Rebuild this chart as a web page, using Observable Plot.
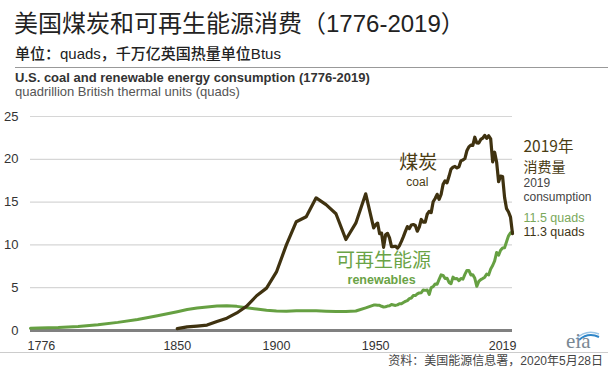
<!DOCTYPE html>
<html><head><meta charset="utf-8">
<script src="https://cdn.jsdelivr.net/npm/d3@7"></script>
<script src="https://cdn.jsdelivr.net/npm/@observablehq/plot@0.6"></script>
<style>
body{margin:0;background:#fff;font-family:"Liberation Sans",Arial,"Noto Sans CJK SC",sans-serif;}
#wrap{position:relative;width:608px;height:377px;overflow:hidden;background:#fff;}
.t{position:absolute;white-space:nowrap;}
</style></head><body>
<div id="wrap">
<div class="t" style="left:14px;top:10px;font-size:24px;line-height:28px;color:#222;">美国煤炭和可再生能源消费（1776-2019）</div>
<div class="t" style="left:15px;top:45px;font-size:15px;line-height:18px;font-weight:500;color:#222;">单位：quads，千万亿英国热量单位Btus</div>
<div style="position:absolute;left:15px;right:0;top:67px;border-top:1px solid #999;"></div>
<div class="t" style="left:15px;top:70px;font-size:13px;line-height:16px;font-weight:bold;color:#333;">U.S. coal and renewable energy consumption (1776-2019)</div>
<div class="t" style="left:15px;top:84px;font-size:13px;line-height:15px;color:#555;">quadrillion British thermal units (quads)</div>
<div id="chart" style="position:absolute;left:0;top:100px;"></div>
<div style="position:absolute;left:0;right:0;top:352px;border-top:1px solid #ccc;"></div>
<div class="t" style="right:5px;top:354px;font-size:12px;line-height:14px;color:#444;">资料：美国能源信息署，2020年5月28日</div>
<svg style="position:absolute;left:562px;top:327px;" width="42" height="26">
  <path d="M14 12 Q24 2 37 7" stroke="#9cc6e6" stroke-width="1.5" fill="none"/>
  <path d="M17 13 Q26 5 37 10" stroke="#2f86c8" stroke-width="2" fill="none"/>
  <text x="4" y="21" font-family="Liberation Serif, DejaVu Serif, serif" font-size="21" fill="#7a8893">eia</text>
</svg>
</div>
<script>
// ---- data (quads) ----
const coalYears = [1850,1855,1860,1865,1870,1875,1880,1885,1890,1895,1900,1905,1910,1915,1920,1925,1930,1935,1940,1945,
 1949,1950,1951,1952,1953,1954,1955,1956,1957,1958,1959,1960,1961,1962,1963,1964,1965,1966,1967,1968,1969,
 1970,1971,1972,1973,1974,1975,1976,1977,1978,1979,1980,1981,1982,1983,1984,1985,1986,1987,1988,1989,
 1990,1991,1992,1993,1994,1995,1996,1997,1998,1999,2000,2001,2002,2003,2004,2005,2006,2007,2008,2009,
 2010,2011,2012,2013,2014,2015,2016,2017,2018,2019];
const coalValues = [0.22,0.42,0.52,0.63,1.05,1.44,2.05,2.84,4.06,4.95,6.84,10.0,12.71,13.29,15.5,14.71,13.64,10.63,12.54,15.97,
 11.98,12.35,12.55,11.31,11.37,9.72,11.17,11.35,10.82,9.81,9.81,9.84,9.62,9.91,10.41,10.96,11.58,12.14,11.91,12.33,12.38,
 12.27,11.6,12.08,12.97,12.66,12.66,13.58,13.92,13.77,15.04,15.42,15.91,15.32,15.89,17.07,17.48,17.26,18.01,18.85,19.07,
 19.17,18.99,19.12,19.84,19.91,20.09,21.0,21.45,21.66,21.62,22.58,21.91,21.9,22.32,22.47,22.8,22.45,22.75,22.39,19.69,
 20.83,19.66,17.38,18.04,17.99,15.55,14.23,13.84,13.24,11.31];

const renewYears = [1776,1780,1790,1800,1810,1820,1830,1840,1850,1855,1860,1865,1870,1875,1880,1885,1890,1895,1900,1905,1910,1915,1920,1925,1930,1935,1940,1945,
 1949,1950,1951,1952,1953,1954,1955,1956,1957,1958,1959,1960,1961,1962,1963,1964,1965,1966,1967,1968,1969,
 1970,1971,1972,1973,1974,1975,1976,1977,1978,1979,1980,1981,1982,1983,1984,1985,1986,1987,1988,1989,
 1990,1991,1992,1993,1994,1995,1996,1997,1998,1999,2000,2001,2002,2003,2004,2005,2006,2007,2008,2009,
 2010,2011,2012,2013,2014,2015,2016,2017,2018,2019];
const renewValues = [0.25,0.28,0.35,0.48,0.68,0.95,1.28,1.72,2.2,2.45,2.62,2.75,2.85,2.88,2.82,2.65,2.5,2.37,2.28,2.25,2.32,2.32,2.3,2.25,2.22,2.22,2.28,2.65,
 2.97,2.98,2.96,2.94,2.83,2.75,2.78,2.85,2.88,3.03,2.98,2.93,2.99,3.13,3.12,3.27,3.4,3.5,3.72,3.8,4.08,
 4.08,4.27,4.39,4.41,4.74,4.69,4.73,4.21,5.01,5.12,5.43,5.41,5.98,6.5,6.44,6.08,6.11,5.62,5.46,6.24,
 6.04,6.07,5.82,6.08,5.99,6.56,7.01,7.02,6.49,6.52,6.1,5.16,5.73,5.94,6.07,6.23,6.6,6.5,7.18,7.59,
 8.13,9.12,8.8,9.37,9.64,9.67,10.37,11.06,11.4,11.5];

const yTicks = [0,5,10,15,20,25];
const xTicks = [1776,1850,1900,1950,2019];

const coal = coalYears.map((year,i)=>({year, value: coalValues[i]}));
const renew = renewYears.map((year,i)=>({year, value: renewValues[i]}));

const FONT = '"Liberation Sans", Arial, "Noto Sans CJK SC", sans-serif';
const CJK = '"Noto Sans CJK SC", sans-serif';
const BROWN = "#3f3210";
const GREEN = "#66a042";

const chart = Plot.plot({
  width: 608, height: 252,
  marginTop: 16, marginBottom: 22, marginLeft: 30, marginRight: 96,
  x: {domain: [1776, 2019], axis: null},
  y: {domain: [0, 25], axis: null},
  style: {fontFamily: FONT, background: "transparent", overflow: "visible"},
  marks: [
    Plot.ruleY(yTicks.filter(d => d > 0), {stroke: "#d6d6d6", strokeWidth: 1.2}),
    Plot.ruleY([0], {stroke: "#808080", strokeWidth: 3}),
    Plot.line(renew, {x: "year", y: "value", stroke: GREEN, strokeWidth: 3}),
    Plot.line(coal, {x: "year", y: "value", stroke: BROWN, strokeWidth: 3.2}),
    // y tick labels
    Plot.text(yTicks, {x: 1776, y: d => d, text: d => String(d), textAnchor: "end", dx: -12, fontSize: 13, fill: "#333"}),
    // x tick labels
    Plot.text(xTicks.slice(0,1), {x: d => d, y: 0, text: d => String(d), textAnchor: "start", dx: -3, dy: 15, fontSize: 12.5, fill: "#333"}),
    Plot.text(xTicks.slice(1,4), {x: d => d, y: 0, text: d => String(d), dy: 15, fontSize: 12.5, fill: "#333"}),
    Plot.text(xTicks.slice(4), {x: d => d, y: 0, text: d => String(d), textAnchor: "end", dx: 4, dy: 15, fontSize: 12.5, fill: "#333"}),
    // series labels
    Plot.text(["煤炭"], {x: 1971.5, y: 19.6, text: d => d, fontSize: 19, fill: "#4a3c14", fontFamily: CJK}),
    Plot.text(["coal"], {x: 1971, y: 17.3, text: d => d, fontSize: 12, fill: "#4a3c14"}),
    Plot.text(["可再生能源"], {x: 1954, y: 8.15, text: d => d, fontSize: 19, fill: "#6aa346", fontFamily: CJK}),
    Plot.text(["renewables"], {x: 1953, y: 5.85, text: d => d, fontSize: 12.5, fontWeight: "bold", fill: "#6aa346"}),
    // 2019 annotation
    Plot.text(["2019年"], {x: 2019, y: 21.45, text: d => d, textAnchor: "start", dx: 11, fontSize: 15.5, fill: "#4a3c14", fontFamily: CJK}),
    Plot.text(["消费量"], {x: 2019, y: 19.05, text: d => d, textAnchor: "start", dx: 11, fontSize: 14, fill: "#4a3c14", fontFamily: CJK}),
    Plot.text(["2019"], {x: 2019, y: 17.25, text: d => d, textAnchor: "start", dx: 11, fontSize: 12, fill: "#444"}),
    Plot.text(["consumption"], {x: 2019, y: 15.55, text: d => d, textAnchor: "start", dx: 11, fontSize: 12, fill: "#444"}),
    Plot.text(["11.5 quads"], {x: 2019, y: 13.2, text: d => d, textAnchor: "start", dx: 11, fontSize: 12.5, fill: "#7aa85a"}),
    Plot.text(["11.3 quads"], {x: 2019, y: 11.45, text: d => d, textAnchor: "start", dx: 11, fontSize: 12.5, fill: "#3f3515"})
  ]
});
document.getElementById("chart").appendChild(chart);
</script>
</body></html>
